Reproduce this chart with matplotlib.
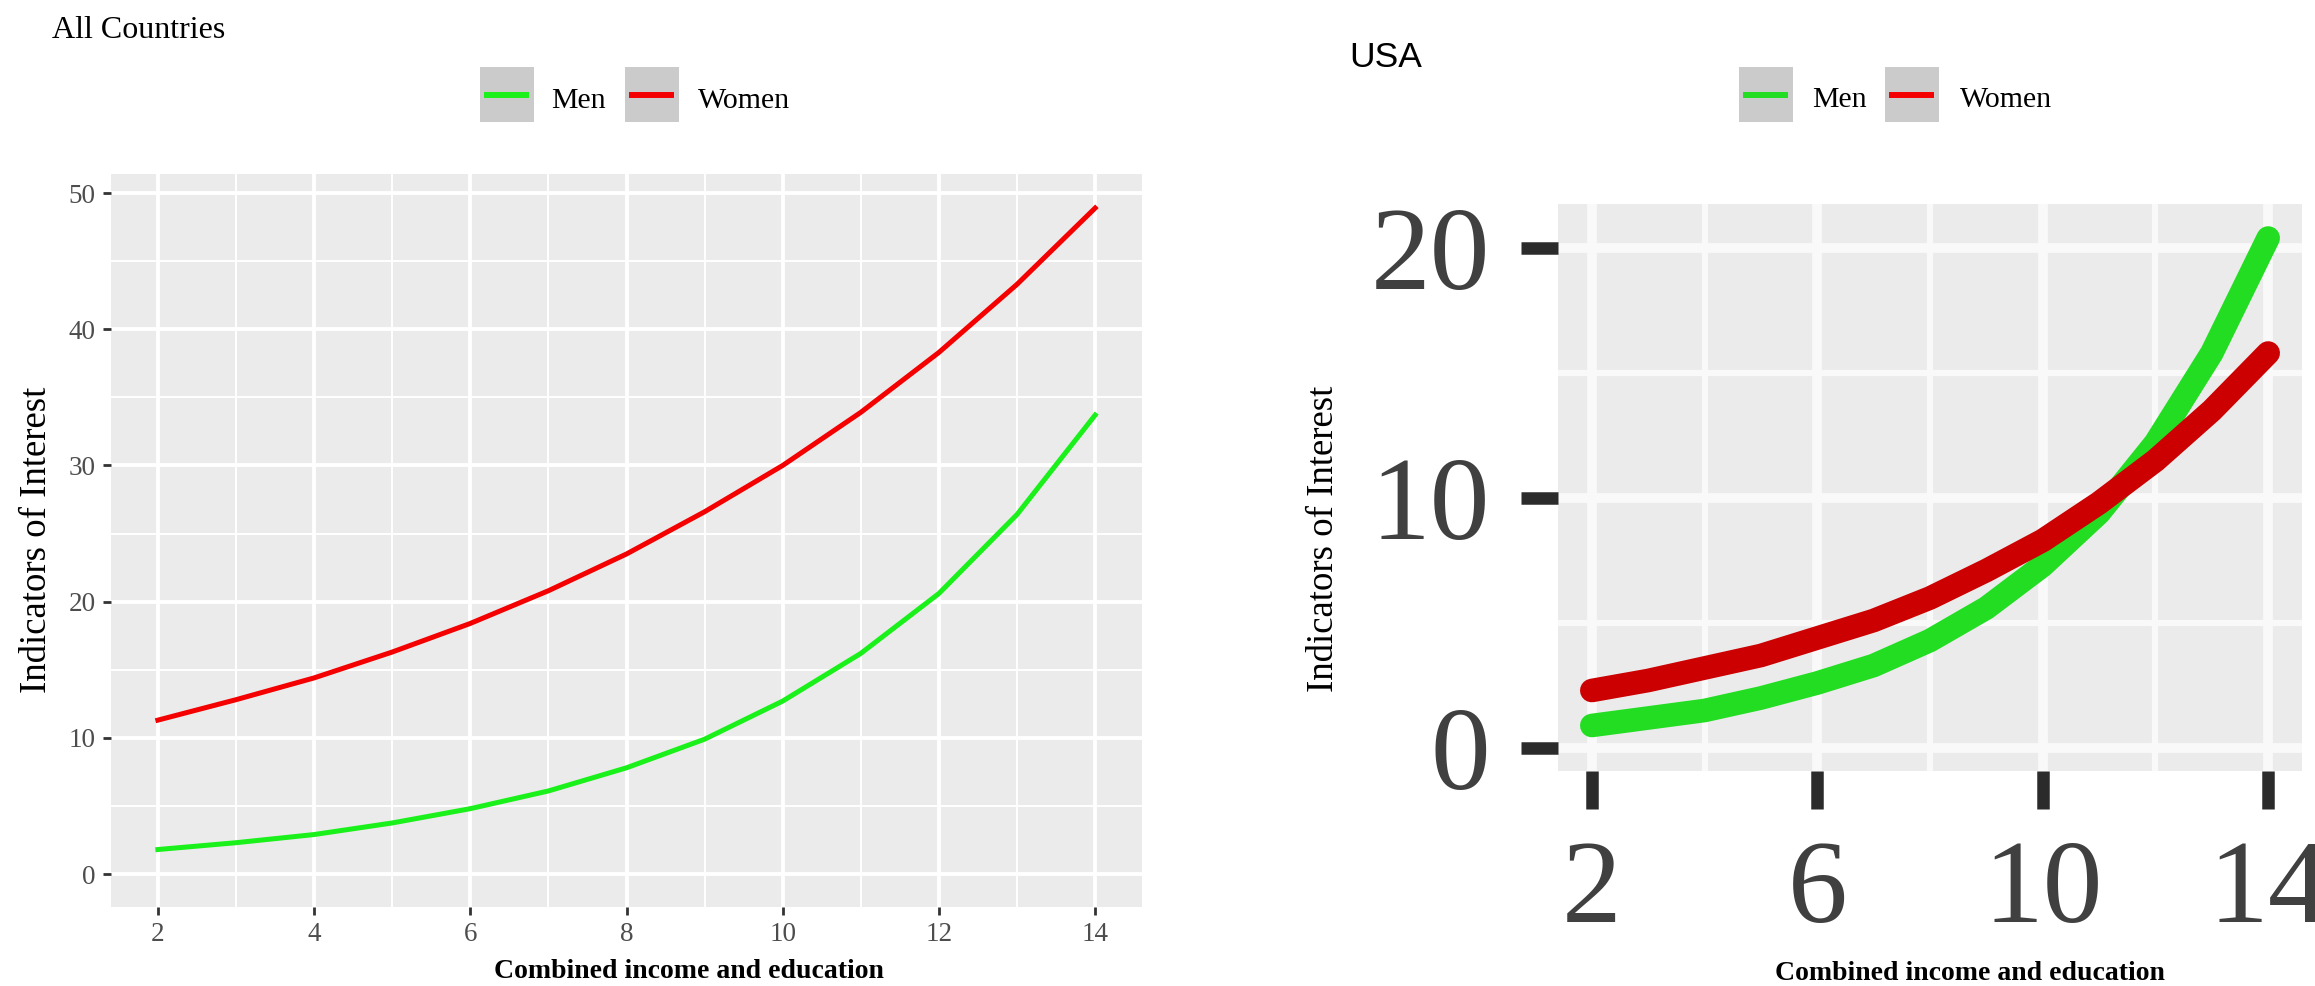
import numpy as np
import matplotlib.pyplot as plt
from matplotlib.patches import Rectangle
from matplotlib.lines import Line2D

plt.rcParams['font.family'] = ['Liberation Serif', 'DejaVu Serif']

W, H = 2315, 986

x_vals = [2, 3, 4, 5, 6, 7, 8, 9, 10, 11, 12, 13, 14]
all_men = [1.8, 2.3, 2.9, 3.75, 4.8, 6.1, 7.8, 9.9, 12.7, 16.2, 20.6, 26.4, 33.7]
all_women = [11.3, 12.8, 14.4, 16.3, 18.4, 20.8, 23.5, 26.6, 30.0, 33.9, 38.3, 43.3, 48.9]
usa_men = [0.9, 1.2, 1.5, 2.0, 2.6, 3.3, 4.3, 5.6, 7.3, 9.4, 12.2, 15.8, 20.4]
usa_women = [2.3, 2.7, 3.2, 3.7, 4.4, 5.1, 6.0, 7.1, 8.3, 9.8, 11.5, 13.5, 15.8]
series = ['Men', 'Women']


def fx(x):
    return x / W


def fy(y):
    return 1 - y / H


def rect(l, t, r, b):
    return [l / W, 1 - b / H, (r - l) / W, (b - t) / H]


def gg_panel(ax, major_lw, minor_lw, grid_col='white'):
    ax.set_facecolor('#EBEBEB')
    for s in ax.spines.values():
        s.set_visible(False)
    ax.grid(which='major', color=grid_col, lw=major_lw)
    ax.grid(which='minor', color=grid_col, lw=minor_lw)
    ax.set_axisbelow(True)
    ax.tick_params(which='minor', length=0)


def legend(text_y, cols, colors, lw):
    # gray key boxes with a short line, like ggplot
    for (bx, tx), c, name in zip(cols, colors, series):
        fig.add_artist(Rectangle((fx(bx), fy(122)), 54 / W, 55 / H,
                                 transform=fig.transFigure, color='#CBCBCB', lw=0))
        fig.add_artist(Line2D([fx(bx + 4), fx(bx + 49)], [fy(95), fy(95)],
                              transform=fig.transFigure, color=c, lw=lw,
                              solid_capstyle='butt'))
        fig.text(fx(tx), fy(text_y), name, fontsize=21.5, va='baseline')


fig = plt.figure(figsize=(W / 100, H / 100), dpi=100)

# ---- All Countries
ax1 = fig.add_axes(rect(111, 174, 1142, 907))
gg_panel(ax1, 2.8, 1.4)
ax1.plot(x_vals, all_men, color='#1AF01A', lw=3.6)
ax1.plot(x_vals, all_women, color='#F40000', lw=3.6)
ax1.set_xlim(1.4, 14.6)
ax1.set_ylim(-2.42, 51.4)
ax1.set_xticks(np.arange(2, 15, 2))
ax1.set_xticks(np.arange(3, 14, 2), minor=True)
ax1.set_yticks(np.arange(0, 51, 10))
ax1.set_yticks(np.arange(5, 50, 10), minor=True)
ax1.tick_params(which='major', length=6, width=2, color='#333333',
                labelsize=19.5, labelcolor='#4D4D4D', pad=5)

fig.text(fx(52), fy(31), 'All Countries', fontsize=23, va='center')
legend(108, [(480, 551), (625, 698)], ['#1AF01A', '#F40000'], 4.3)
fig.text(fx(37), fy(540), 'Indicators of Interest', fontsize=26.5,
         rotation=90, ha='center', va='center')
fig.text(fx(689), fy(972), 'Combined income and education', fontsize=20,
         fontweight='bold', ha='center', va='center')

# ---- USA
ax2 = fig.add_axes(rect(1558, 204, 2302, 771))
gg_panel(ax2, 7, 4.5, '#F9F9F9')
ax2.plot(x_vals, usa_men, color='#22DD22', lw=17, solid_capstyle='round')
ax2.plot(x_vals, usa_women, color='#CC0000', lw=17, solid_capstyle='round')
ax2.set_xlim(1.4, 14.6)
ax2.set_ylim(-0.92, 21.76)
ax2.set_xticks([2, 6, 10, 14])
ax2.set_xticks([4, 8, 12], minor=True)
ax2.set_yticks([0, 10, 20])
ax2.set_yticks([5, 15], minor=True)
ax2.tick_params(which='major', length=27, width=9, color='#2B2B2B',
                labelsize=86, labelcolor='#404040', pad=22)

fig.text(fx(1349), fy(67), 'USA', fontsize=25.5, family='Liberation Sans',
         va='baseline')
legend(107, [(1739, 1812), (1885, 1960)], ['#22DD22', '#F40000'], 4.3)
fig.text(fx(1324), fy(539), 'Indicators of Interest', fontsize=26.5,
         rotation=90, ha='center', va='center')
fig.text(fx(1970), fy(973), 'Combined income and education', fontsize=20,
         fontweight='bold', ha='center', va='center')

fig.savefig('out.png', dpi=100)
